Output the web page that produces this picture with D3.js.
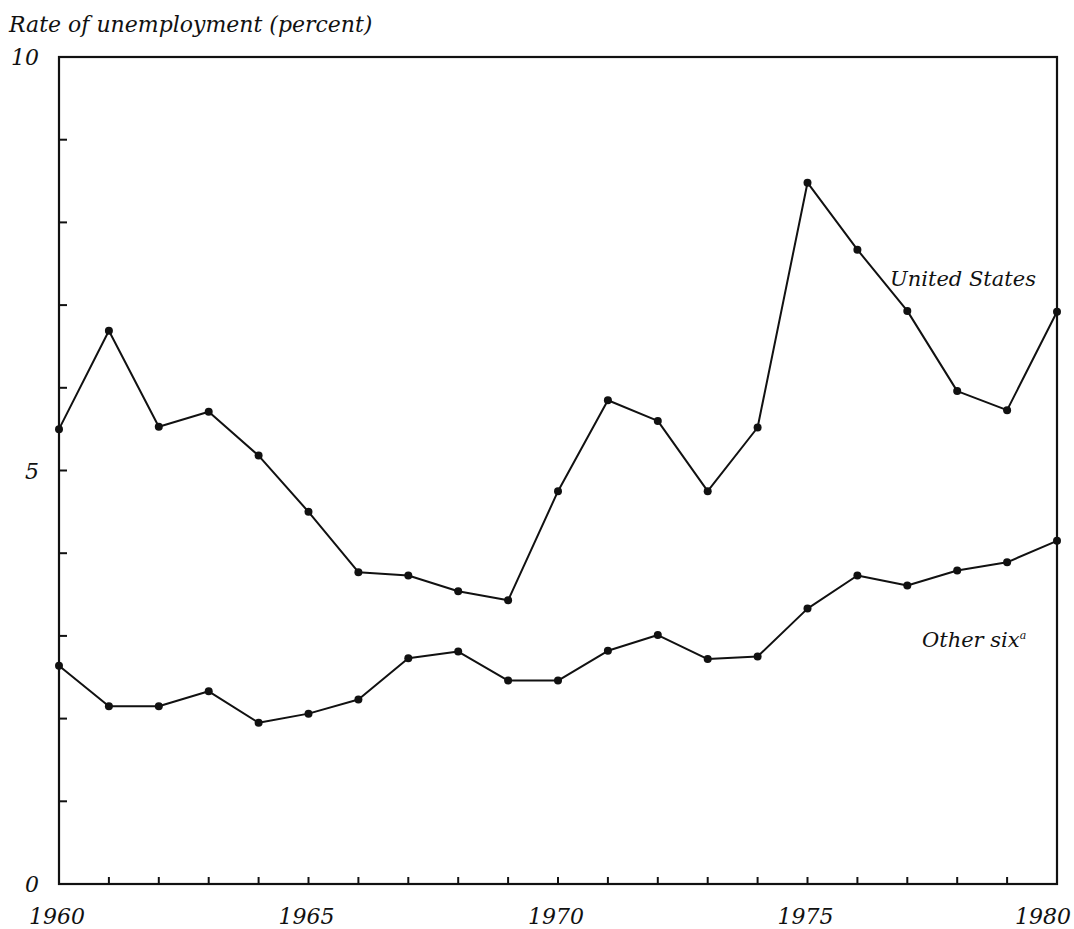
<!DOCTYPE html>
<meta charset="utf-8">
<body style="margin:0;background:#fff">
<style>
  text { font-family: "DejaVu Serif", "Liberation Serif", serif; font-style: italic; fill: #111; }
  .series { fill: none; stroke: #111; stroke-width: 2px; stroke-linejoin: round; }
  .frame { fill: none; stroke: #111; stroke-width: 2.2px; }
  .tick { stroke: #111; stroke-width: 2px; }
</style>
<svg width="1074" height="929"></svg>
<script src="https://d3js.org/d3.v7.min.js"></script>
<script>

// Data
var years = d3.range(1960, 1981);
var unitedStates = [5.50, 6.69, 5.53, 5.71, 5.18, 4.50, 3.77, 3.73, 3.54, 3.43,
                    4.75, 5.85, 5.60, 4.75, 5.52, 8.48, 7.67, 6.93, 5.96, 5.73, 6.92];
var otherSix = [2.64, 2.15, 2.15, 2.33, 1.95, 2.06, 2.23, 2.73, 2.81, 2.46,
                2.46, 2.82, 3.01, 2.72, 2.75, 3.33, 3.73, 3.61, 3.79, 3.89, 4.15];
var yLabels = [0, 5, 10];
var xLabels = [1960, 1965, 1970, 1975, 1980];

var svg = d3.select("svg");

var x = d3.scaleLinear().domain([1960, 1980]).range([59, 1057]);
var y = d3.scaleLinear().domain([0, 10]).range([884, 57]);

// caption
svg.append("text")
    .attr("x", 9)
    .attr("y", 32)
    .style("font-size", "22px")
    .text("Rate of unemployment (percent)");

// frame (left, top, right, bottom)
svg.append("rect")
    .attr("class", "frame")
    .attr("x", x(1960))
    .attr("y", y(10))
    .attr("width", x(1980) - x(1960))
    .attr("height", y(0) - y(10));

// inward ticks
svg.append("g").selectAll("line")
    .data(d3.range(1, 10))
    .enter().append("line")
      .attr("class", "tick")
      .attr("x1", x(1960)).attr("x2", x(1960) + 8)
      .attr("y1", y).attr("y2", y);

svg.append("g").selectAll("line")
    .data(d3.range(1961, 1980))
    .enter().append("line")
      .attr("class", "tick")
      .attr("x1", x).attr("x2", x)
      .attr("y1", y(0)).attr("y2", y(0) - 7);

// axis labels
svg.append("g").selectAll("text")
    .data(yLabels)
    .enter().append("text")
      .attr("x", 39)
      .attr("y", function (d) { return y(d) + 8; })
      .attr("text-anchor", "end")
      .style("font-size", "22px")
      .text(function (d) { return d; });

svg.append("g").selectAll("text")
    .data(xLabels)
    .enter().append("text")
      .attr("x", function (d) { return x(d); })
      .attr("dx", function (d) { return d === 1980 ? -14 : -2; })
      .attr("y", 924)
      .attr("text-anchor", "middle")
      .style("font-size", "22px")
      .text(function (d) { return d; });

// series
var line = d3.line()
    .x(function (d) { return x(d[0]); })
    .y(function (d) { return y(d[1]); });

[unitedStates, otherSix].forEach(function (vals) {
    var pts = years.map(function (yr, i) { return [yr, vals[i]]; });
    svg.append("path")
        .attr("class", "series")
        .attr("d", line(pts));
    svg.append("g").selectAll("circle")
        .data(pts)
        .enter().append("circle")
          .attr("cx", function (d) { return x(d[0]); })
          .attr("cy", function (d) { return y(d[1]); })
          .attr("r", 4)
          .attr("fill", "#111");
});

// series labels
svg.append("text")
    .attr("x", 890)
    .attr("y", 286)
    .style("font-size", "21px")
    .text("United States");

var other = svg.append("text")
    .attr("x", 922)
    .attr("y", 647)
    .style("font-size", "21px")
    .text("Other six");
other.append("tspan")
    .attr("dy", -8)
    .style("font-size", "11px")
    .text("a");

</script>
</body>
